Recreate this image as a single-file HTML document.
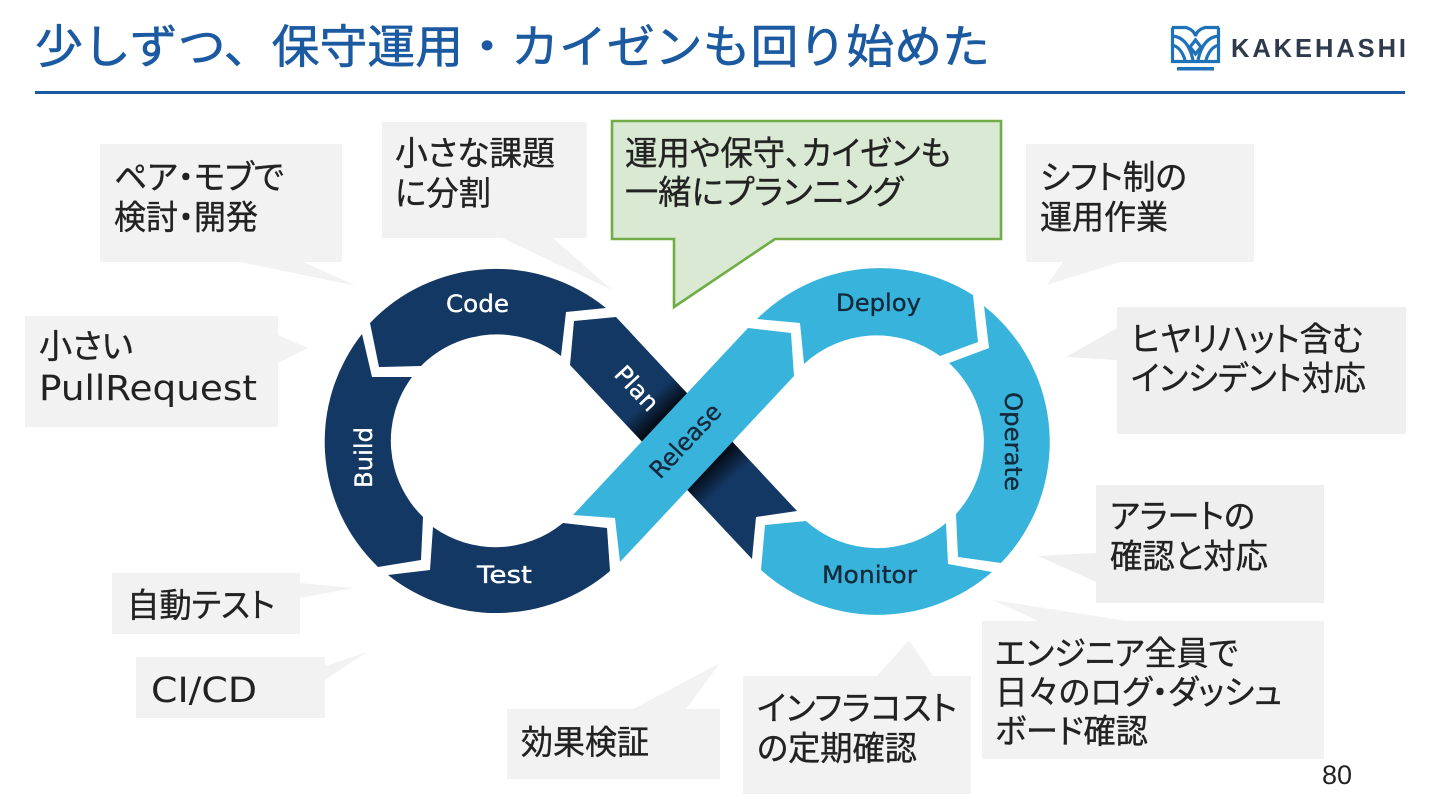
<!DOCTYPE html>
<html lang="ja"><head><meta charset="utf-8"><title>保守運用・カイゼン</title>
<style>
html,body{margin:0;padding:0;background:#fff;width:1440px;height:810px;overflow:hidden}
svg{display:block}
.j{font-family:"Liberation Sans","Noto Sans CJK JP",sans-serif;font-size:33.5px;fill:#222;stroke:#222;stroke-width:.35px;font-feature-settings:"palt"}
.l{font-family:"DejaVu Sans","Liberation Sans",sans-serif;font-size:35px;fill:#222}
.r{font-family:"DejaVu Sans","Liberation Sans",sans-serif;font-size:24px;stroke-width:.35px}
.w{fill:#fff;stroke:#fff}.d{fill:#14293B;stroke:#14293B}
.c{fill:#F2F2F2}.e{fill:#EFEFEF}
</style></head><body>
<svg width="1440" height="810" viewBox="0 0 1440 810" xmlns="http://www.w3.org/2000/svg">
<defs>
<linearGradient id="pg" gradientUnits="userSpaceOnUse" x1="593" y1="341" x2="775" y2="538">
<stop offset="0" stop-color="#133864"/><stop offset=".3" stop-color="#133864"/><stop offset=".385" stop-color="#050d18"/><stop offset=".64" stop-color="#050d18"/><stop offset=".73" stop-color="#133864"/><stop offset="1" stop-color="#133864"/>
</linearGradient>
</defs>
<rect width="1440" height="810" fill="#fff"/>
<!-- title -->
<text x="35" y="63" textLength="955" lengthAdjust="spacingAndGlyphs" style="font-family:'Liberation Sans','Noto Sans CJK JP',sans-serif;font-size:46px;font-weight:400;fill:#1B5AA0;stroke:#1B5AA0;stroke-width:.6px">少しずつ、保守運用・カイゼンも回り始めた</text>
<rect x="35" y="91" width="1370" height="3" fill="#1B5AA0"/>
<!-- logo -->
<g fill="none" stroke="#1F72B8" stroke-width="3.2">
<path d="M1172.500 27.500V61.500H1218.500V27.500"/>
<path d="M1172 27.500H1186Q1194 30 1195.500 36Q1197 30 1205 27.500H1219" />
<path d="M1172 36Q1188 37 1193 60M1219 36Q1203 37 1198 60"/>
<path d="M1172 45Q1181 47 1185 60M1219 45Q1210 47 1206 60"/>
<path d="M1195.500 40L1190 47L1195.500 54L1201 47Z"/>
</g>
<rect x="1177" y="67" width="37" height="3.500" fill="#1F72B8"/>
<text x="1231" y="57" textLength="175" lengthAdjust="spacing" style="font-family:'Liberation Sans',sans-serif;font-weight:700;font-size:25.500px;fill:#2F3B4C">KAKEHASHI</text>
<!-- callouts -->
<path class="c" d="M100 144H342V262H303L357 286L240 262H100Z"/>
<path class="c" d="M25 316H278V335L308 348L278 363V427H25Z"/>
<path class="c" d="M382 122H587V238H553L612 290L502 238H382Z"/>
<path class="c" d="M1026 144H1254V262H1120L1047 285L1063 262H1026Z"/>
<path class="e" d="M1117 307H1406V434H1117V360L1066 357L1117 328Z"/>
<path class="e" d="M1096 485H1324V603H1096V582L1038 556L1096 553Z"/>
<path class="c" d="M982 621H1038L993 600L1127 621H1324V759H982Z"/>
<path class="c" d="M743 676H877L909 640L933 676H971V794H743Z"/>
<path class="c" d="M507 709H633L720 663L686 709H720V779H507Z"/>
<path class="c" d="M112 573H300V583L353 588L300 598V634H112Z"/>
<path class="c" d="M136 657H325V666L367 652L325 680V718H136Z"/>
<path d="M612 121H1001V239H775L674 307V239H612Z" fill="#DAE9D3" stroke="#70AD47" stroke-width="2.600"/>
<!-- left ring -->
<path fill="#133864" d="M370 323A174 174 0 0 1 606 308L566 312L561 356A106.500 106.500 0 0 0 421 366L379 367Z"/>
<path fill="#133864" d="M362 334L372 377L412 377A106.500 106.500 0 0 0 423 517L421 560L378 567A174 174 0 0 1 362 334Z"/>
<path fill="#133864" d="M433 527A106.500 106.500 0 0 0 563 523L607 528L610 571A174 174 0 0 1 388 575L430 570Z"/>
<!-- right ring -->
<path fill="#38B4DC" d="M757 319A174 174 0 0 1 973 295L978 342L940 356A107 107 0 0 0 804 364L800 323Z"/>
<path fill="#38B4DC" d="M984 306A174 174 0 0 1 1001 563L958 557L956 514A107 107 0 0 0 949 363L989 348Z"/>
<path fill="#38B4DC" d="M765 525L806 521A107 107 0 0 0 946 523L948 564L992 572A174 174 0 0 1 761 570Z"/>
<!-- plan + release -->
<path fill="url(#pg)" d="M574 321L616 317L797 511L756 517L752 559L570 365Z"/>
<path fill="#38B4DC" d="M748 328L791 333L794 376L620 562L615 518L573 515Z"/>
<!-- ring labels -->
<text class="r w" x="446" y="312" textLength="63" lengthAdjust="spacingAndGlyphs">Code</text>
<text class="r w" transform="translate(372 488) rotate(-90)" textLength="61" lengthAdjust="spacingAndGlyphs">Build</text>
<text class="r w" x="477" y="583" textLength="55" lengthAdjust="spacingAndGlyphs">Test</text>
<text class="r w" transform="translate(613 375) rotate(47)" textLength="52" lengthAdjust="spacingAndGlyphs">Plan</text>
<text class="r d" transform="translate(660 480) rotate(-46.800)" textLength="92" lengthAdjust="spacingAndGlyphs">Release</text>
<text class="r d" x="836" y="311" textLength="85" lengthAdjust="spacingAndGlyphs">Deploy</text>
<text class="r d" transform="translate(1005 392) rotate(90)" textLength="99" lengthAdjust="spacingAndGlyphs">Operate</text>
<text class="r d" x="822" y="583" textLength="95" lengthAdjust="spacingAndGlyphs">Monitor</text>
<!-- callout text -->
<text class="j" x="114" y="189" textLength="170" lengthAdjust="spacingAndGlyphs">ペア・モブで</text>
<text class="j" x="114" y="229" textLength="144" lengthAdjust="spacingAndGlyphs">検討・開発</text>
<text class="j" x="39" y="358" textLength="94" lengthAdjust="spacingAndGlyphs">小さい</text>
<text class="l" x="39" y="400" textLength="218" lengthAdjust="spacingAndGlyphs">PullRequest</text>
<text class="j" x="395" y="165" textLength="160" lengthAdjust="spacingAndGlyphs">小さな課題</text>
<text class="j" x="395" y="205" textLength="96" lengthAdjust="spacingAndGlyphs">に分割</text>
<text class="j" x="625" y="165" textLength="326" lengthAdjust="spacingAndGlyphs">運用や保守、カイゼンも</text>
<text class="j" x="625" y="204" textLength="278" lengthAdjust="spacingAndGlyphs">一緒にプランニング</text>
<text class="j" x="1040" y="189" textLength="147" lengthAdjust="spacingAndGlyphs">シフト制の</text>
<text class="j" x="1040" y="229" textLength="128" lengthAdjust="spacingAndGlyphs">運用作業</text>
<text class="j" x="1131" y="351" textLength="232" lengthAdjust="spacingAndGlyphs">ヒヤリハット含む</text>
<text class="j" x="1131" y="390" textLength="235" lengthAdjust="spacingAndGlyphs">インシデント対応</text>
<text class="j" x="1110" y="528" textLength="145" lengthAdjust="spacingAndGlyphs">アラートの</text>
<text class="j" x="1110" y="568" textLength="158" lengthAdjust="spacingAndGlyphs">確認と対応</text>
<text class="j" x="995" y="665" textLength="243" lengthAdjust="spacingAndGlyphs">エンジニア全員で</text>
<text class="j" x="995" y="704" textLength="287" lengthAdjust="spacingAndGlyphs">日々のログ・ダッシュ</text>
<text class="j" x="995" y="743" textLength="153" lengthAdjust="spacingAndGlyphs">ボード確認</text>
<text class="j" x="757" y="720" textLength="200" lengthAdjust="spacingAndGlyphs">インフラコスト</text>
<text class="j" x="757" y="760" textLength="160" lengthAdjust="spacingAndGlyphs">の定期確認</text>
<text class="j" x="521" y="754" textLength="128" lengthAdjust="spacingAndGlyphs">効果検証</text>
<text class="j" x="127" y="617" textLength="148" lengthAdjust="spacingAndGlyphs">自動テスト</text>
<text class="l" x="151" y="702" textLength="106" lengthAdjust="spacingAndGlyphs">CI/CD</text>
<text x="1322" y="784" style="font-family:'Liberation Sans',sans-serif;font-size:27px;fill:#222">80</text>
</svg>
</body></html>
